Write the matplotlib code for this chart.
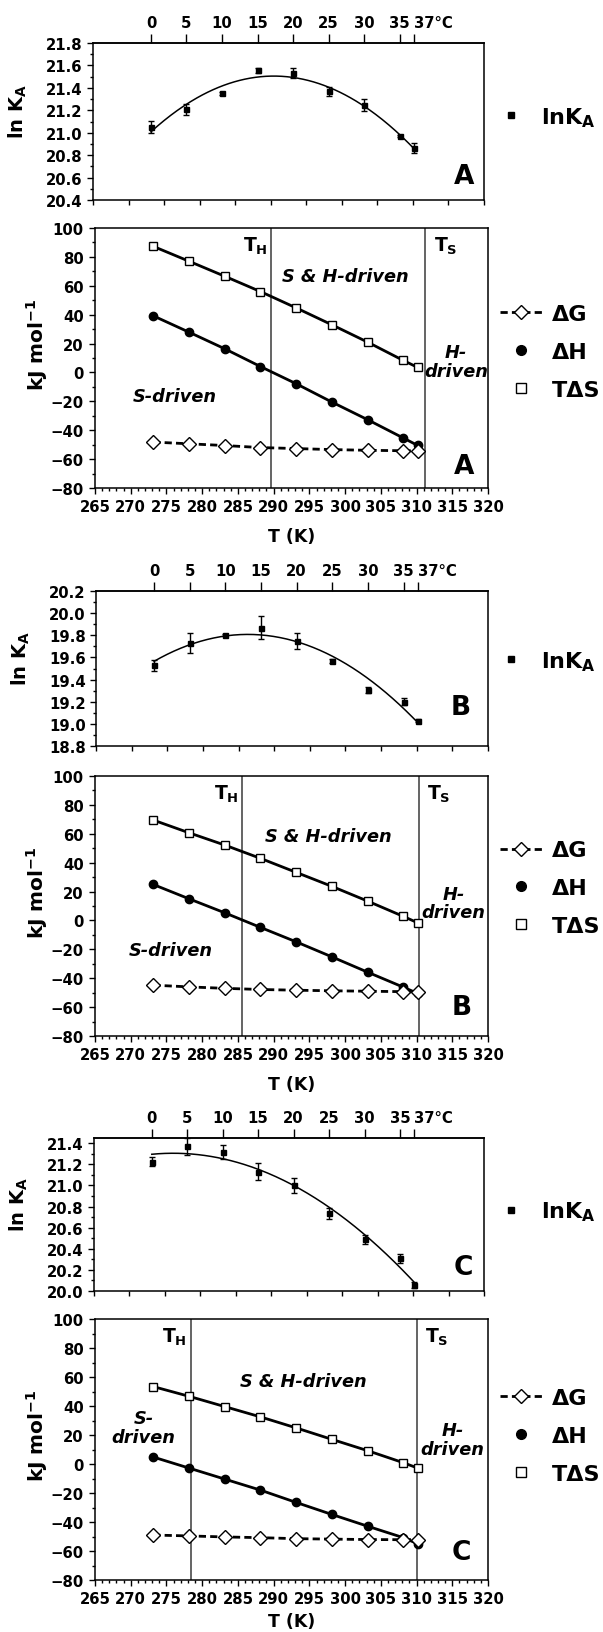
import numpy as np
import matplotlib
matplotlib.use('Agg')
import matplotlib.pyplot as plt
from matplotlib.lines import Line2D
from matplotlib.ticker import MultipleLocator, FormatStrFormatter

plt.rcParams['font.family'] = ['DejaVu Sans']
plt.rcParams['font.weight'] = 'bold'
plt.rcParams['mathtext.default'] = 'regular'

# ---------------- data ----------------
T_K = [273.15, 278.15, 283.15, 288.15, 293.15, 298.15, 303.15, 308.15, 310.15]
celsius_ticks = [0, 5, 10, 15, 20, 25, 30, 35, 37]
celsius_labels = ['0', '5', '10', '15', '20', '25', '30', '35', '37°C']

lnKA_A = [21.05, 21.21, 21.35, 21.555, 21.535, 21.37, 21.25, 20.97, 20.86]
errA = [0.055, 0.05, 0.01, 0.02, 0.045, 0.04, 0.055, 0.01, 0.045]
lnKA_B = [19.53, 19.73, 19.805, 19.87, 19.75, 19.57, 19.305, 19.20, 19.03]
errB = [0.05, 0.09, 0.01, 0.10, 0.075, 0.02, 0.03, 0.03, 0.01]
lnKA_C = [21.225, 21.37, 21.32, 21.13, 21.0, 20.735, 20.49, 20.31, 20.06]
errC = [0.045, 0.08, 0.065, 0.08, 0.075, 0.055, 0.04, 0.04, 0.03]

dG_A = [-48.2, -49.4, -50.6, -52.0, -52.7, -53.4, -53.9, -54.2, -54.3]
dH_A = [39.2, 27.9, 16.4, 4.1, -7.8, -20.5, -32.7, -45.4, -50.5]
TdS_A = [87.3, 77.0, 66.6, 56.0, 44.7, 33.0, 21.0, 8.3, 3.5]

dG_B = [-44.8, -46.0, -47.0, -47.8, -48.3, -48.7, -49.0, -49.3, -49.6]
dH_B = [24.9, 15.0, 5.3, -4.8, -14.8, -25.2, -35.8, -46.2, -50.5]
TdS_B = [69.5, 60.7, 52.2, 43.0, 33.3, 23.6, 13.4, 2.8, -1.6]

dG_C = [-49.0, -49.6, -50.3, -50.8, -51.5, -51.8, -52.1, -52.2, -52.1]
dH_C = [4.8, -2.8, -10.4, -18.0, -26.5, -34.8, -42.9, -50.8, -55.0]
TdS_C = [53.4, 46.7, 39.6, 32.5, 24.9, 17.0, 9.2, 0.9, -2.8]

T_H = {'A': 289.7, 'B': 285.6, 'C': 278.4}
T_S = {'A': 311.2, 'B': 310.3, 'C': 310.0}

# ---------------- layout ----------------
W, H = 603, 1633
fig = plt.figure(figsize=(W / 100, H / 100), dpi=100)


def add_ax(x0, y0, x1, y1):
    return fig.add_axes([x0 / W, 1 - y1 / H, (x1 - x0) / W, (y1 - y0) / H])


TICK_FS = 10.7
YLAB_TOP_FS = 14
YLAB_BOT_FS = 14.5
XLAB_FS = 12.5
LEG_FS = 16
LET_FS = 19
ANN_FS = 12.8
TH_FS = 13.5
SPINE_LW = 1.1


def style_spines(ax):
    for s in ax.spines.values():
        s.set_linewidth(SPINE_LW)


def top_panel(box, lnk, err, ylim, letter, letter_xy, leg_y):
    ax = add_ax(*box)
    ax.errorbar(T_K, lnk, yerr=err, fmt='s', color='k', ms=3.6, capsize=2.4,
                elinewidth=1, capthick=1, zorder=3)
    coef = np.polyfit(T_K, lnk, 2)
    tt = np.linspace(T_K[0], T_K[-1], 200)
    ax.plot(tt, np.polyval(coef, tt), color='k', lw=1.1)
    ax.set_xlim(265, 320)
    ax.set_ylim(*ylim)
    ax.xaxis.set_major_locator(MultipleLocator(5))
    ax.tick_params(axis='x', which='both', labelbottom=False, direction='out',
                   length=3.6, width=1)
    ax.yaxis.set_major_locator(MultipleLocator(0.2))
    ax.yaxis.set_minor_locator(MultipleLocator(0.1))
    ax.yaxis.set_major_formatter(FormatStrFormatter('%.1f'))
    ax.tick_params(axis='y', which='major', direction='out', length=4, width=1,
                   labelsize=TICK_FS, pad=3.5)
    ax.tick_params(axis='y', which='minor', direction='out', length=2.2, width=1)
    sec = ax.secondary_xaxis('top')
    sec.set_xticks([c + 273.15 for c in celsius_ticks], labels=celsius_labels)
    sec.tick_params(axis='x', direction='out', length=6.5, width=1,
                    labelsize=TICK_FS, pad=2.5)
    sec.spines['top'].set_linewidth(SPINE_LW)
    lbls = sec.get_xticklabels()
    lbls[-1].set_horizontalalignment('left')
    style_spines(ax)
    ax.set_ylabel(r'ln K$_\mathregular{A}$', fontsize=YLAB_TOP_FS,
                  fontweight='bold')
    ax.yaxis.set_label_coords(-0.163, 0.57)
    ax.text(letter_xy[0], letter_xy[1], letter, transform=ax.transAxes,
            fontsize=LET_FS, fontweight='bold', ha='center', va='center')
    h = [Line2D([], [], marker='s', color='k', ls='none', ms=4.6)]
    ax.legend(h, [r'lnK$_\mathregular{A}$'], loc='center left',
              bbox_to_anchor=((500 - box[0]) / (box[2] - box[0]), leg_y),
              frameon=False, fontsize=LEG_FS, handlelength=1.0,
              handletextpad=0.85, borderpad=0, borderaxespad=0)
    return ax


def bottom_panel(box, dG, dH, TdS, th, ts, letter, letter_xy, leg_y, ann,
                 xlabpad):
    ax = add_ax(*box)
    ax.plot(T_K, TdS, color='k', lw=2.0, marker='s', ms=6.3, mfc='white',
            mec='k', mew=1, zorder=3)
    ax.plot(T_K, dH, color='k', lw=2.0, marker='o', ms=6, mfc='k', mec='k',
            zorder=3)
    ax.plot(T_K, dG, color='k', lw=2.0, ls=(0, (2.6, 1.5)), marker='D', ms=6.8,
            mfc='white', mec='k', mew=1, zorder=4)
    ax.axvline(th, color='#3a3a3a', lw=1.1, zorder=1)
    ax.axvline(ts, color='#3a3a3a', lw=1.1, zorder=1)
    ax.set_xlim(265, 320)
    ax.set_ylim(-80, 100)
    ax.xaxis.set_major_locator(MultipleLocator(5))
    ax.xaxis.set_minor_locator(MultipleLocator(1))
    ax.yaxis.set_major_locator(MultipleLocator(20))
    ax.yaxis.set_minor_locator(MultipleLocator(10))
    ax.tick_params(which='major', direction='out', length=4, width=1,
                   labelsize=TICK_FS)
    ax.tick_params(axis='y', which='major', pad=4)
    ax.tick_params(axis='x', which='major', pad=4)
    ax.tick_params(which='minor', direction='out', length=2.2, width=1)
    style_spines(ax)
    ax.set_ylabel(r'kJ mol$^\mathregular{-1}$', fontsize=YLAB_BOT_FS,
                  fontweight='bold')
    ax.yaxis.set_label_coords(-0.115, 0.555)
    ax.set_xlabel('T (K)', fontsize=XLAB_FS, fontweight='bold', labelpad=xlabpad)
    ax.text(letter_xy[0], letter_xy[1], letter, transform=ax.transAxes,
            fontsize=LET_FS, fontweight='bold', ha='center', va='center')
    # region annotations
    ax.text(th - 0.5, 88, r'T$_\mathregular{H}$', fontsize=TH_FS,
            fontweight='bold', ha='right', va='center')
    ax.text(ts + 1.2, 88, r'T$_\mathregular{S}$', fontsize=TH_FS,
            fontweight='bold', ha='left', va='center')
    for (x, y, s) in ann:
        ax.text(x, y, s, fontsize=ANN_FS, fontweight='bold', style='italic',
                ha='center', va='center', linespacing=1.05)
    h = [Line2D([], [], color='k', lw=2.0, ls=(0, (2.6, 1.5)), marker='D',
                ms=7.2, mfc='white', mec='k', mew=1),
         Line2D([], [], color='k', ls='none', marker='o', ms=7),
         Line2D([], [], color='k', ls='none', marker='s', ms=6.5, mfc='white',
                mew=1)]
    ax.legend(h, ['ΔG', 'ΔH', 'TΔS'], loc='center left',
              bbox_to_anchor=((500 - box[0]) / (box[2] - box[0]), leg_y),
              frameon=False, fontsize=LEG_FS, handlelength=1.9,
              handletextpad=0.45, labelspacing=0.8, borderpad=0,
              borderaxespad=0)
    return ax


# Panel group A
top_panel((93, 44, 484, 201), lnKA_A, errA, (20.4, 21.8), 'A', (0.948, 0.153), 0.53)
bottom_panel((95, 229, 488, 489), dG_A, dH_A, TdS_A, T_H['A'], T_S['A'], 'A',
             (0.938, 0.083), 0.523,
             [(300.1, 66.8, 'S & H-driven'), (276.1, -16, 'S-driven'),
              (315.5, 7.5, 'H-\ndriven')], 9)

# Panel group B
top_panel((96, 592, 488, 747), lnKA_B, errB, (18.8, 20.2), 'B', (0.931, 0.25), 0.55)
bottom_panel((95, 777, 488, 1037), dG_B, dH_B, TdS_B, T_H['B'], T_S['B'], 'B',
             (0.933, 0.112), 0.569,
             [(297.7, 58.7, 'S & H-driven'), (275.6, -20.5, 'S-driven'),
              (315.2, 12, 'H-\ndriven')], 9)

# Panel group C
top_panel((94, 1139, 484, 1292), lnKA_C, errC, (20.0, 21.45), 'C', (0.948, 0.157), 0.52)
bottom_panel((95, 1320, 488, 1581), dG_C, dH_C, TdS_C, T_H['C'], T_S['C'], 'C',
             (0.933, 0.107), 0.552,
             [(294.2, 57.3, 'S & H-driven'), (271.8, 25, 'S-\ndriven'),
              (315.0, 17, 'H-\ndriven')], 4)

fig.savefig('out.png', dpi=100)
